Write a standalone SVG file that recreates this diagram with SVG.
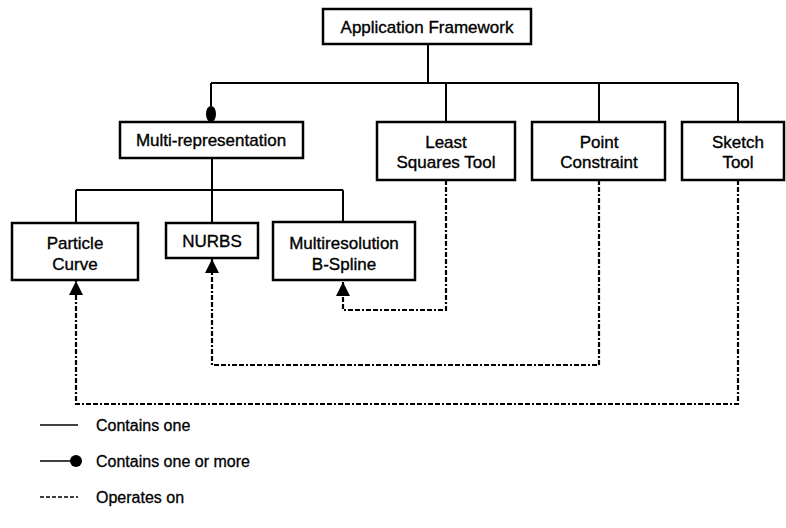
<svg xmlns="http://www.w3.org/2000/svg" width="786" height="528" viewBox="0 0 786 528">
  <style>
    .box { fill: #fff; stroke: #000; stroke-width: 2.5; }
    .lbl { font-family: "Liberation Sans", Arial, sans-serif; font-size: 17px; fill: #000; text-anchor: middle; stroke: #000; stroke-width: 0.35; }
    .leg { font-family: "Liberation Sans", Arial, sans-serif; font-size: 16px; fill: #000; stroke: #000; stroke-width: 0.3; }
    .solid { fill: none; stroke: #000; stroke-width: 2; }
    .dash { fill: none; stroke: #000; stroke-width: 2.2; stroke-dasharray: 5 2 5 2 2 2; }
  </style>
  <defs>
    <marker id="arrow" viewBox="0 0 14 14" refX="14" refY="7" markerWidth="14" markerHeight="14" markerUnits="userSpaceOnUse" orient="auto">
      <path d="M0,0 L14,7 L0,14 Z" fill="#000"/>
    </marker>
  </defs>

  <!-- containment and operation links -->
  <g id="connectors">
    <path class="solid" d="M428,44 V83 M211,83 H738 M446,83 V122 M599,83 V122 M738,83 V122 M211,83 V106"/>
    <ellipse cx="211" cy="114" rx="5" ry="8" fill="#000"/>
    <path class="solid" d="M212,158 V190 M76,190 H343 M76,190 V223 M212,190 V223 M343,190 V222"/>
    <path class="dash" d="M446,180 V310 H343 V282" marker-end="url(#arrow)"/>
    <path class="dash" d="M599,180 V365 H212 V259" marker-end="url(#arrow)"/>
    <path class="dash" d="M738,180 V404 H76 V281" marker-end="url(#arrow)"/>
  </g>

  <g id="application-framework">
    <rect class="box" x="323" y="9" width="208" height="35"/>
    <text class="lbl" x="427" y="33">Application Framework</text>
  </g>
  <g id="multi-representation">
    <rect class="box" x="120" y="122" width="183" height="36"/>
    <text class="lbl" x="211" y="146">Multi-representation</text>
  </g>
  <g id="least-squares-tool">
    <rect class="box" x="377" y="122" width="138" height="58"/>
    <text class="lbl" x="446" y="148">Least</text>
    <text class="lbl" x="446" y="168">Squares Tool</text>
  </g>
  <g id="point-constraint">
    <rect class="box" x="532" y="122" width="133" height="58"/>
    <text class="lbl" x="599" y="148">Point</text>
    <text class="lbl" x="599" y="168">Constraint</text>
  </g>
  <g id="sketch-tool">
    <rect class="box" x="682" y="122" width="102" height="58"/>
    <text class="lbl" x="738" y="148">Sketch</text>
    <text class="lbl" x="738" y="168">Tool</text>
  </g>
  <g id="particle-curve">
    <rect class="box" x="12" y="223" width="126" height="57"/>
    <text class="lbl" x="75" y="249">Particle</text>
    <text class="lbl" x="75" y="270">Curve</text>
  </g>
  <g id="nurbs">
    <rect class="box" x="166" y="223" width="92" height="35"/>
    <text class="lbl" x="212" y="247">NURBS</text>
  </g>
  <g id="multiresolution-b-spline">
    <rect class="box" x="273" y="222" width="142" height="58"/>
    <text class="lbl" x="344" y="249">Multiresolution</text>
    <text class="lbl" x="344" y="270">B-Spline</text>
  </g>

  <!-- key -->
  <g id="legend">
    <line class="solid" x1="40" y1="425" x2="78" y2="425" style="stroke-width:1.5"/>
    <text class="leg" x="96" y="431">Contains one</text>
    <line class="solid" x1="40" y1="461" x2="76" y2="461" style="stroke-width:1.5"/>
    <circle cx="76" cy="461" r="6" fill="#000"/>
    <text class="leg" x="96" y="467">Contains one or more</text>
    <line class="dash" x1="40" y1="497" x2="78" y2="497" style="stroke-dasharray:4 2;stroke-width:1.5"/>
    <text class="leg" x="96" y="503">Operates on</text>
  </g>
</svg>
